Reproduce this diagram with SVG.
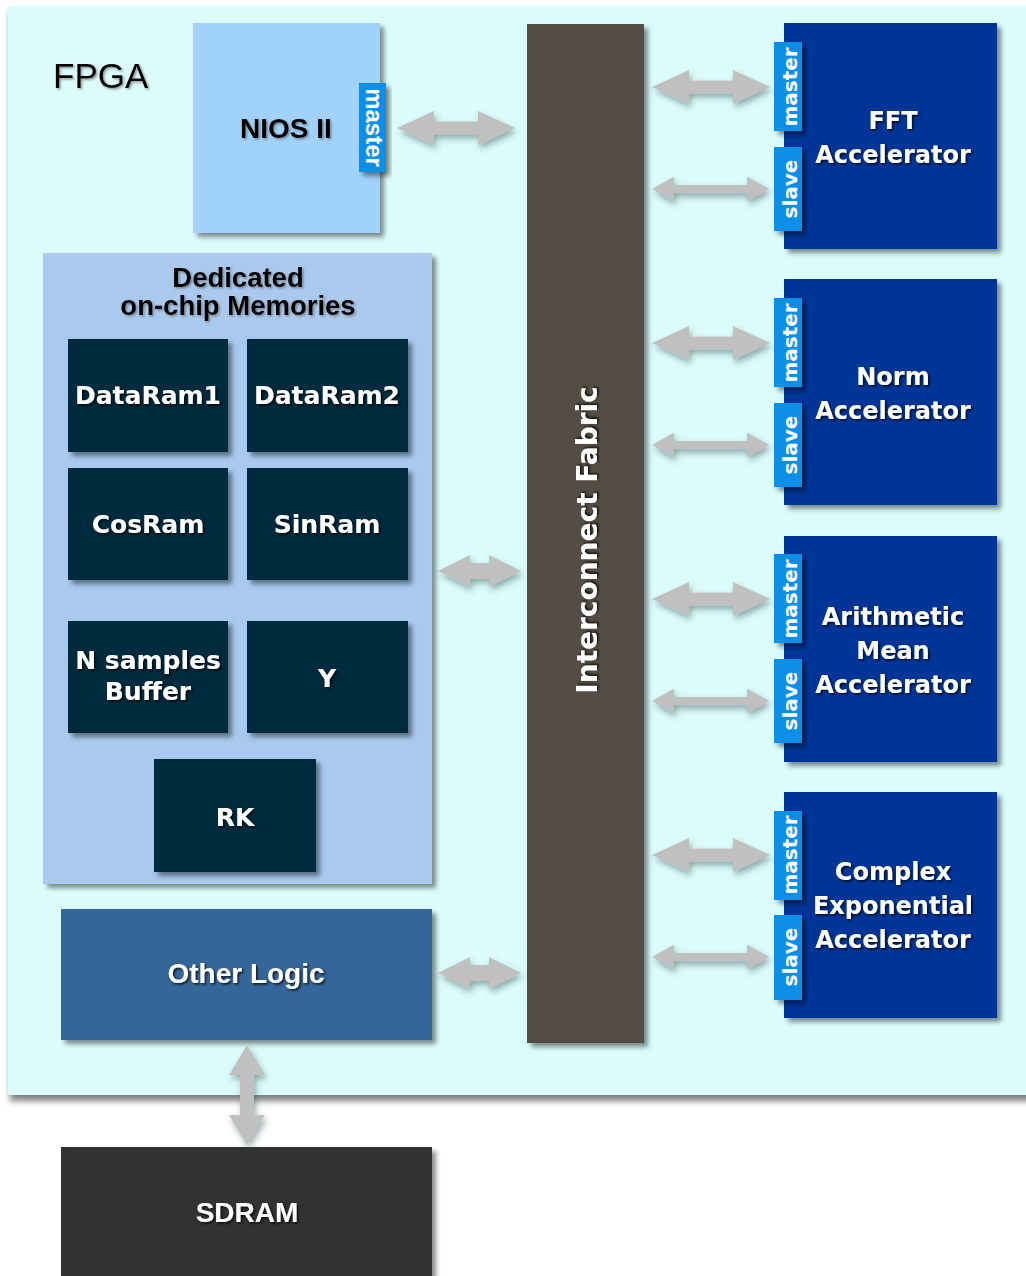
<svg xmlns="http://www.w3.org/2000/svg" width="1026" height="1276" viewBox="0 0 1026 1276">
  <defs>
    <filter id="boxShadow" x="-10%" y="-10%" width="130%" height="130%">
      <feDropShadow dx="4" dy="4" stdDeviation="2.5" flood-color="#000" flood-opacity="0.45"/>
    </filter>
    <filter id="boardShadow" x="-5%" y="-5%" width="110%" height="112%">
      <feDropShadow dx="2" dy="6" stdDeviation="3" flood-color="#000" flood-opacity="0.5"/>
    </filter>
    <filter id="arrowShadow" x="-20%" y="-40%" width="140%" height="200%">
      <feDropShadow dx="2" dy="4" stdDeviation="3" flood-color="#2a4a4a" flood-opacity="0.45"/>
    </filter>
    <filter id="textDark" x="-10%" y="-30%" width="120%" height="160%">
      <feDropShadow dx="1.5" dy="1.5" stdDeviation="1" flood-color="#000" flood-opacity="0.8"/>
    </filter>
    <filter id="textGrey" x="-10%" y="-30%" width="120%" height="160%">
      <feDropShadow dx="1.5" dy="1.5" stdDeviation="1" flood-color="#555" flood-opacity="0.6"/>
    </filter>
    <!-- reusable bidirectional block arrows, drawn from x=0 along the centre line y=0 -->
    <polygon id="arrowMaster" points="0,0 37,-17 37,-6.5 81,-6.5 81,-17 118,0 81,17 81,6.5 37,6.5 37,17"/>
    <polygon id="arrowSlave" points="0,0 22,-12.5 22,-4 95,-4 95,-12.5 117,0 95,12.5 95,4 22,4 22,12.5"/>
    <polygon id="arrowShort" points="0,0 32,-16 32,-8 51,-8 51,-16 83,0 51,16 51,8 32,8 32,16"/>
  </defs>
  <style>
    .board { fill: #dcfcfc; }
    .nios { fill: #a0d2fc; }
    .tab { fill: #0a8fe8; }
    .memgroup { fill: #a9caee; }
    .mem { fill: #022a3e; }
    .fabric { fill: #524e45; }
    .accel { fill: #013498; }
    .other { fill: #346699; }
    .sdram { fill: #333333; }
    .arrow { fill: #c0c0c0; }
    .sans { font-family: "Liberation Sans", Arial, sans-serif; }
    .dv { font-family: "DejaVu Sans", Verdana, sans-serif; font-weight: bold; }
    .white { fill: #ffffff; }
    .black { fill: #000000; }
    .mid { text-anchor: middle; }
  </style>

  <!-- FPGA board -->
  <g id="fpga">
    <rect class="board" x="8" y="6" width="1030" height="1089" filter="url(#boardShadow)"/>
    <text class="sans black" x="53" y="88" font-size="35" filter="url(#textGrey)">FPGA</text>
  </g>

  <!-- NIOS II processor -->
  <g id="nios">
    <rect class="nios" x="193" y="23" width="187" height="210" filter="url(#boxShadow)"/>
    <text class="sans black mid" x="286" y="138" font-size="28" font-weight="bold" filter="url(#textGrey)">NIOS II</text>
    <rect class="tab" x="359" y="83" width="27" height="89" filter="url(#boxShadow)"/>
    <text class="sans white mid" font-size="24" font-weight="bold" transform="translate(366,127.5) rotate(90)">master</text>
  </g>

  <!-- Dedicated on-chip memories -->
  <g id="memories">
    <rect class="memgroup" x="43" y="253" width="389" height="631" filter="url(#boxShadow)"/>
    <text class="sans black mid" x="238" y="287" font-size="27.5" font-weight="bold" filter="url(#textGrey)">Dedicated</text>
    <text class="sans black mid" x="238" y="315" font-size="27.5" font-weight="bold" filter="url(#textGrey)">on-chip Memories</text>
    <g id="dataram1">
      <rect class="mem" x="68" y="339" width="160" height="113" filter="url(#boxShadow)"/>
      <text class="dv white mid" x="148" y="404" font-size="25" filter="url(#textDark)">DataRam1</text>
    </g>
    <g id="dataram2">
      <rect class="mem" x="247" y="339" width="161" height="113" filter="url(#boxShadow)"/>
      <text class="dv white mid" x="327" y="404" font-size="25" filter="url(#textDark)">DataRam2</text>
    </g>
    <g id="cosram">
      <rect class="mem" x="68" y="468" width="160" height="112" filter="url(#boxShadow)"/>
      <text class="dv white mid" x="148" y="533" font-size="25" filter="url(#textDark)">CosRam</text>
    </g>
    <g id="sinram">
      <rect class="mem" x="247" y="468" width="161" height="112" filter="url(#boxShadow)"/>
      <text class="dv white mid" x="327" y="533" font-size="25" filter="url(#textDark)">SinRam</text>
    </g>
    <g id="nsamples">
      <rect class="mem" x="68" y="621" width="160" height="112" filter="url(#boxShadow)"/>
      <text class="dv white mid" x="148" y="669" font-size="25" filter="url(#textDark)">N samples</text>
      <text class="dv white mid" x="148" y="700" font-size="25" filter="url(#textDark)">Buffer</text>
    </g>
    <g id="y">
      <rect class="mem" x="247" y="621" width="161" height="112" filter="url(#boxShadow)"/>
      <text class="dv white mid" x="327" y="687" font-size="25" filter="url(#textDark)">Y</text>
    </g>
    <g id="rk">
      <rect class="mem" x="154" y="759" width="162" height="113" filter="url(#boxShadow)"/>
      <text class="dv white mid" x="235" y="826" font-size="25" filter="url(#textDark)">RK</text>
    </g>
  </g>

  <!-- Other logic -->
  <g id="other-logic">
    <rect class="other" x="61" y="909" width="371" height="131" filter="url(#boxShadow)"/>
    <text class="sans white mid" x="246" y="983" font-size="28" font-weight="bold" filter="url(#textDark)">Other Logic</text>
  </g>

  <!-- External SDRAM -->
  <g id="sdram">
    <rect class="sdram" x="61" y="1147" width="371" height="140" filter="url(#boxShadow)"/>
    <text class="sans white mid" x="247" y="1222" font-size="28" font-weight="bold" filter="url(#textDark)">SDRAM</text>
  </g>

  <!-- Interconnect fabric -->
  <g id="fabric">
    <rect class="fabric" x="527" y="24" width="117" height="1019" filter="url(#boxShadow)"/>
    <text class="dv white mid" font-size="28" transform="translate(597,540) rotate(-90)" filter="url(#textDark)">Interconnect Fabric</text>
  </g>

  <!-- Accelerators -->
  <g id="fft">
    <rect class="accel" x="784" y="23" width="213" height="226" filter="url(#boxShadow)"/>
    <text class="dv white mid" x="893" y="129" font-size="24" filter="url(#textDark)">FFT</text>
    <text class="dv white mid" x="893" y="163" font-size="24" filter="url(#textDark)">Accelerator</text>
    <rect class="tab" x="774" y="42" width="28" height="89" filter="url(#boxShadow)"/>
    <text class="dv white mid" font-size="20" transform="translate(797,87) rotate(-90)">master</text>
    <rect class="tab" x="774" y="147" width="28" height="84" filter="url(#boxShadow)"/>
    <text class="dv white mid" font-size="20" transform="translate(797,189) rotate(-90)">slave</text>
  </g>
  <g id="norm">
    <rect class="accel" x="784" y="279" width="213" height="226" filter="url(#boxShadow)"/>
    <text class="dv white mid" x="893" y="385" font-size="24" filter="url(#textDark)">Norm</text>
    <text class="dv white mid" x="893" y="419" font-size="24" filter="url(#textDark)">Accelerator</text>
    <rect class="tab" x="774" y="298" width="28" height="89" filter="url(#boxShadow)"/>
    <text class="dv white mid" font-size="20" transform="translate(797,343) rotate(-90)">master</text>
    <rect class="tab" x="774" y="403" width="28" height="84" filter="url(#boxShadow)"/>
    <text class="dv white mid" font-size="20" transform="translate(797,445) rotate(-90)">slave</text>
  </g>
  <g id="arith-mean">
    <rect class="accel" x="784" y="536" width="213" height="226" filter="url(#boxShadow)"/>
    <text class="dv white mid" x="893" y="625" font-size="24" filter="url(#textDark)">Arithmetic</text>
    <text class="dv white mid" x="893" y="659" font-size="24" filter="url(#textDark)">Mean</text>
    <text class="dv white mid" x="893" y="693" font-size="24" filter="url(#textDark)">Accelerator</text>
    <rect class="tab" x="774" y="554" width="28" height="89" filter="url(#boxShadow)"/>
    <text class="dv white mid" font-size="20" transform="translate(797,599) rotate(-90)">master</text>
    <rect class="tab" x="774" y="659" width="28" height="84" filter="url(#boxShadow)"/>
    <text class="dv white mid" font-size="20" transform="translate(797,701) rotate(-90)">slave</text>
  </g>
  <g id="complex-exp">
    <rect class="accel" x="784" y="792" width="213" height="226" filter="url(#boxShadow)"/>
    <text class="dv white mid" x="893" y="880" font-size="24" filter="url(#textDark)">Complex</text>
    <text class="dv white mid" x="893" y="914" font-size="24" filter="url(#textDark)">Exponential</text>
    <text class="dv white mid" x="893" y="948" font-size="24" filter="url(#textDark)">Accelerator</text>
    <rect class="tab" x="774" y="811" width="28" height="89" filter="url(#boxShadow)"/>
    <text class="dv white mid" font-size="20" transform="translate(797,855) rotate(-90)">master</text>
    <rect class="tab" x="774" y="915" width="28" height="85" filter="url(#boxShadow)"/>
    <text class="dv white mid" font-size="20" transform="translate(797,957) rotate(-90)">slave</text>
  </g>

  <!-- Connectors: bidirectional bus links -->
  <g id="connectors" class="arrow" filter="url(#arrowShadow)">
    <use href="#arrowMaster" transform="translate(397,128)"/>
    <use href="#arrowShort" transform="translate(438,571)"/>
    <use href="#arrowShort" transform="translate(438,973)"/>
    <use href="#arrowMaster" transform="translate(652,87)"/>
    <use href="#arrowSlave" transform="translate(652,189)"/>
    <use href="#arrowMaster" transform="translate(652,343)"/>
    <use href="#arrowSlave" transform="translate(652,445)"/>
    <use href="#arrowMaster" transform="translate(652,599)"/>
    <use href="#arrowSlave" transform="translate(652,701)"/>
    <use href="#arrowMaster" transform="translate(652,855)"/>
    <use href="#arrowSlave" transform="translate(652,957)"/>
    <polygon points="247,1045 265,1075 254,1075 254,1115 265,1115 247,1145 229,1115 240,1115 240,1075 229,1075"/>
  </g>
</svg>
